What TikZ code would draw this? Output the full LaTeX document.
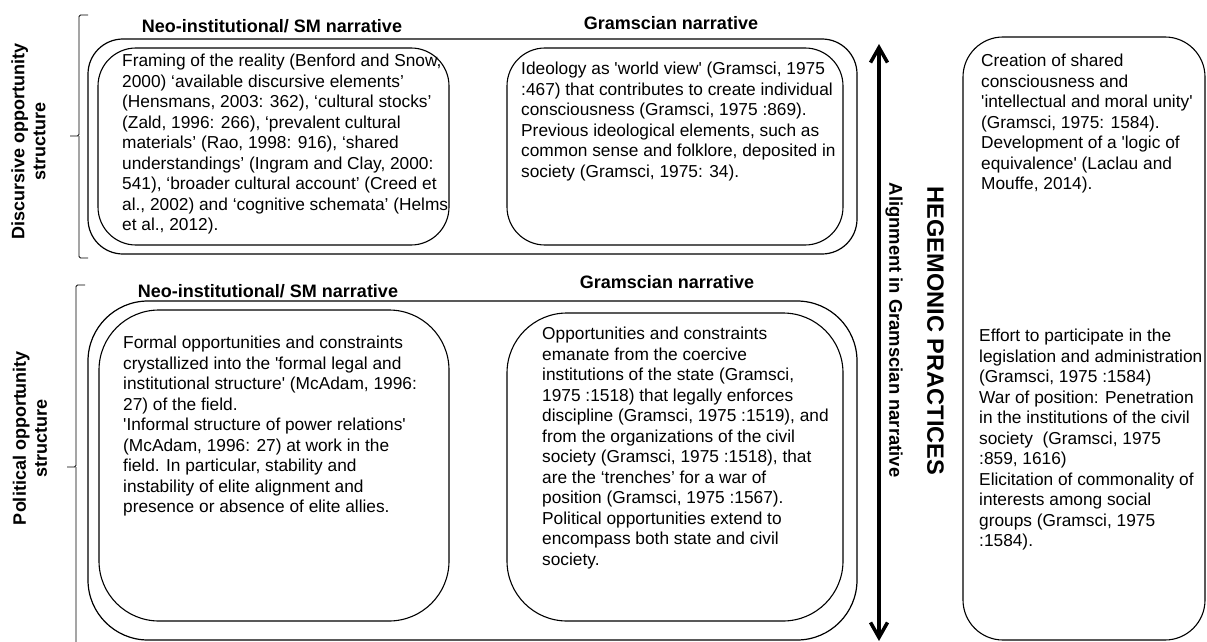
\documentclass[tikz,border=0pt]{standalone}
\usepackage{fontspec}
\setmainfont{Liberation Sans}
\usetikzlibrary{arrows.meta}
\newcommand{\sq}{\textquotesingle}
\tikzset{
  shell/.style={draw, line width=1.2pt, inner sep=0pt},
  cell/.style={draw, line width=1.1pt, inner sep=0pt},
  body/.style={anchor=north west, align=left, inner sep=0pt, font=\fontsize{17.3}{20.5}\selectfont},
  head/.style={anchor=base, inner sep=0pt, font=\fontsize{18}{21}\selectfont\bfseries},
  side/.style={rotate=90, align=center, inner sep=0pt, font=\fontsize{18}{21}\selectfont\bfseries},
  brace/.style={line width=0.8pt, rounded corners=1.5pt},
  spine/.style={{Straight Barb[length=15pt,width=17pt]}-{Straight Barb[length=15pt,width=17pt]}, line width=3.5pt},
}

\begin{document}
\begin{tikzpicture}[x=1pt, y=-1pt]
  \useasboundingbox (0,0) rectangle (1207,642);

  \node[shell, rounded corners=35pt, minimum width=769pt, minimum height=215pt] (dos) at (472.5,146.5) {};
  \node[cell, rounded corners=38pt, minimum width=351pt, minimum height=197pt] (dneo) at (273.5,146.5) {};
  \node[cell, rounded corners=38pt, minimum width=336pt, minimum height=197pt] (dgram) at (675,146.5) {};
  \node[shell, rounded corners=60pt, minimum width=769pt, minimum height=339pt] (pos) at (472.5,470.5) {};
  \node[cell, rounded corners=60pt, minimum width=350pt, minimum height=311pt] (pneo) at (274,465.5) {};
  \node[cell, rounded corners=60pt, minimum width=336pt, minimum height=308pt] (pgram) at (675,467) {};
  \node[cell, rounded corners=40pt, minimum width=242pt, minimum height=603pt] (hp) at (1084,338.5) {};

  \node[head] (hdneo) at (272,33) {Neo-institutional/ SM narrative};
  \node[head] (hdgram) at (671,30) {Gramscian narrative};
  \node[head] (hpneo) at (268,297) {Neo-institutional/ SM narrative};
  \node[head] (hpgram) at (667,288) {Gramscian narrative};

  \node[body] (tdneo) at (122,54) {Framing of the reality (Benford and Snow,\\
    2000) ‘available discursive elements’\\
    (Hensmans, 2003: 362), ‘cultural stocks’\\
    (Zald, 1996: 266), ‘prevalent cultural\\
    materials’ (Rao, 1998: 916), ‘shared\\
    understandings’ (Ingram and Clay, 2000:\\
    541), ‘broader cultural account’ (Creed et\\
    al., 2002) and ‘cognitive schemata’ (Helms\\
    et al., 2012).};
  \node[body] (tdgram) at (521,62) {Ideology as \sq world view\sq{} (Gramsci, 1975\\
    :467) that contributes to create individual\\
    consciousness (Gramsci, 1975 :869).\\
    Previous ideological elements, such as\\
    common sense and folklore, deposited in\\
    society (Gramsci, 1975: 34).};
  \node[body] (tpneo) at (123,336) {Formal opportunities and constraints\\
    crystallized into the \sq formal legal and\\
    institutional structure\sq{} (McAdam, 1996:\\
    27) of the field.\\
    \sq Informal structure of power relations\sq\\
    (McAdam, 1996: 27) at work in the\\
    field. In particular, stability and\\
    instability of elite alignment and\\
    presence or absence of elite allies.};
  \node[body] (tpgram) at (542,327) {Opportunities and constraints\\
    emanate from the coercive\\
    institutions of the state (Gramsci,\\
    1975 :1518) that legally enforces\\
    discipline (Gramsci, 1975 :1519), and\\
    from the organizations of the civil\\
    society (Gramsci, 1975 :1518), that\\
    are the ‘trenches’ for a war of\\
    position (Gramsci, 1975 :1567).\\
    Political opportunities extend to\\
    encompass both state and civil\\
    society.};
  \node[body] (thtop) at (981,54) {Creation of shared\\
    consciousness and\\
    \sq intellectual and moral unity\sq\\
    (Gramsci, 1975: 1584).\\
    Development of a \sq logic of\\
    equivalence\sq{} (Laclau and\\
    Mouffe, 2014).};
  \node[body] (thbot) at (979,329) {Effort to participate in the\\
    legislation and administration\\
    (Gramsci, 1975 :1584)\\
    War of position: Penetration\\
    in the institutions of the civil\\
    society\ \ (Gramsci, 1975\\
    :859, 1616)\\
    Elicitation of commonality of\\
    interests among social\\
    groups (Gramsci, 1975\\
    :1584).};

  \node[side] (ldos) at (28.5,141.5) {Discursive opportunity\\structure};
  \node[side] (lpos) at (30,438) {Political opportunity\\structure};

  \draw[brace] (88,15) -- (79,15) -- (79,136) -- (70,136) (79,136) -- (79,258) -- (88,258);
  \draw[brace] (85,285) -- (76,285) -- (76,467) -- (67,467) (76,467) -- (76,645);

  \coordinate (atop) at (879,44);
  \coordinate (abot) at (879,641);
  \draw[spine] (atop) -- (abot);
  \node[rotate=-90, inner sep=0pt, font=\fontsize{18.4}{21}\selectfont\bfseries] (lalign) at (894,330) {Alignment in Gramscian narrative};
  \node[rotate=-90, inner sep=0pt, font=\fontsize{23.6}{27}\selectfont\bfseries] (lhp) at (935.5,331) {HEGEMONIC PRACTICES};
\end{tikzpicture}
\end{document}
